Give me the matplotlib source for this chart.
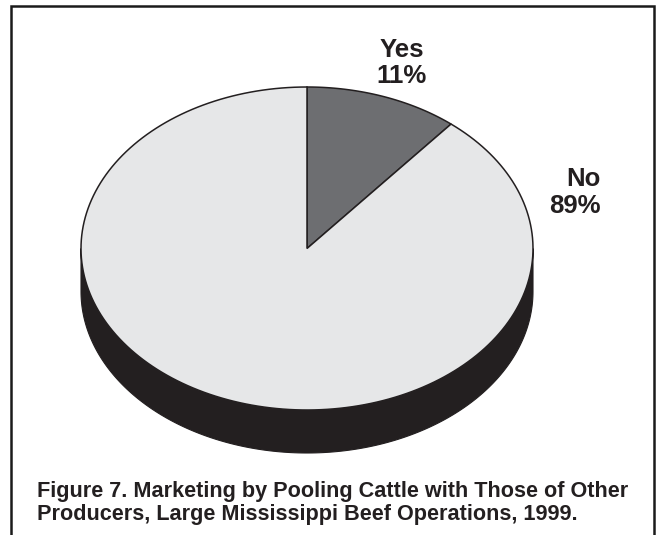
import numpy as np
import matplotlib.pyplot as plt
from matplotlib.patches import Polygon

# Share of operations marketing by pooling cattle
labels = ['Yes', 'No']
values = [11, 89]
colors = ['#6d6e71', '#e6e7e8']
side_color = '#231f20'
edge_color = '#231f20'

caption = ['Figure 7. Marketing by Pooling Cattle with Those of Other',
           'Producers, Large Mississippi Beef Operations, 1999.']

# pie geometry in pixel units (y grows downward)
cx, cy = 307, 248.5
rx, ry = 226, 161.5
depth = 43

fig = plt.figure(figsize=(6.57, 5.35), dpi=100)
ax = fig.add_axes([0, 0, 1, 1])
ax.set_xlim(0, 657)
ax.set_ylim(535, 0)
ax.axis('off')


def ellipse_pts(t0, t1, dy=0, n=200):
    t = np.radians(np.linspace(t0, t1, n))
    return np.column_stack([cx + rx * np.cos(t), cy + dy - ry * np.sin(t)])


# side wall: front half of the rim pushed down by depth
front = ellipse_pts(180, 360)
bottom = ellipse_pts(360, 180, dy=depth)
ax.add_patch(Polygon(np.vstack([front, bottom]), closed=True,
                     facecolor=side_color, edgecolor=side_color, lw=0.8, zorder=1))

# top face wedges, clockwise from 12 o'clock
total = sum(values)
start = 90.0
for val, col in zip(values, colors):
    sweep = 360.0 * val / total
    arc = ellipse_pts(start, start - sweep)
    pts = np.vstack([[cx, cy], arc])
    ax.add_patch(Polygon(pts, closed=True, facecolor=col,
                         edgecolor=edge_color, lw=1.1, joinstyle='miter', zorder=2))
    start -= sweep

# slice labels
font = ['Liberation Sans', 'Arial', 'DejaVu Sans']
lab_kw = dict(fontsize=18.5, fontweight='bold', family=font, color='#231f20',
              va='baseline')
ax.text(402, 57, labels[0], ha='center', **lab_kw)
ax.text(402, 83, f'{values[0]}%', ha='center', **lab_kw)
ax.text(601, 186, labels[1], ha='right', **lab_kw)
ax.text(601, 213, f'{values[1]}%', ha='right', **lab_kw)

# caption
for i, line in enumerate(caption):
    ax.text(37, 497 + 23 * i, line, ha='left', va='baseline', fontsize=15.6,
            fontweight='bold', family=font, color='#231f20')

# frame open at the bottom
ax.plot([11, 11, 654, 654], [535, 6, 6, 535], color='#1a1a1a', lw=1.8,
        solid_joinstyle='miter')

fig.savefig('out.png', dpi=100)
